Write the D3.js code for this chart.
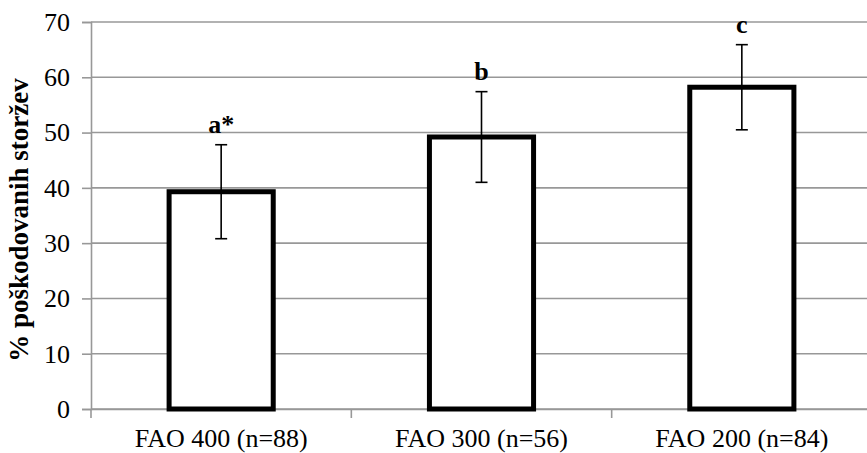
<!DOCTYPE html>
<html>
<head>
<meta charset="utf-8">
<script src="https://cdn.jsdelivr.net/npm/d3@7"></script>
<style>
  body { margin: 0; background: #fff; }
  svg { display: block; }
  text { font-family: "Liberation Serif", "Times New Roman", serif; fill: #000; }
</style>
</head>
<body>
<svg id="chart" width="867" height="453"></svg>
<script>
// data
const categories = ["FAO 400 (n=88)", "FAO 300 (n=56)", "FAO 200 (n=84)"];
const means = [39.3, 49.2, 58.2];
const errors = [8.5, 8.2, 7.7];
const letters = ["a*", "b", "c"];
const yTicks = [0, 10, 20, 30, 40, 50, 60, 70];

const width = 867, height = 453;
const margin = { top: 22, right: -5, bottom: 44, left: 91 };
const gridColor = "#989898";

const svg = d3.select("#chart");

// Scales
const x = d3.scaleBand()
  .domain(categories)
  .range([margin.left, width - margin.right]);

const y = d3.scaleLinear()
  .domain([0, 70])
  .range([height - margin.bottom, margin.top]);

const barW = x.bandwidth() * 0.4;

// Gridlines
svg.append("g")
  .selectAll("line")
  .data(yTicks)
  .join("line")
  .attr("x1", margin.left)
  .attr("x2", width - margin.right)
  .attr("y1", d => y(d))
  .attr("y2", d => y(d))
  .attr("stroke", gridColor)
  .attr("stroke-width", 1.6);

// Axes
const yAxis = svg.append("g")
  .attr("transform", `translate(${margin.left},0)`)
  .call(d3.axisLeft(y).tickValues(yTicks).tickSize(9).tickPadding(12).tickFormat(d3.format("d")));

const xAxis = svg.append("g")
  .attr("transform", `translate(0,${height - margin.bottom})`)
  .call(d3.axisBottom(x).tickSize(0).tickPadding(20));

// boundary ticks between categories
const bounds = categories.map(c => x(c)).concat([x(categories[categories.length - 1]) + x.bandwidth()]);
xAxis.selectAll(".bound")
  .data(bounds)
  .join("line")
  .attr("class", "bound")
  .attr("x1", d => d)
  .attr("x2", d => d)
  .attr("y1", 0)
  .attr("y2", 9)
  .attr("stroke", gridColor)
  .attr("stroke-width", 1.6);

[yAxis, xAxis].forEach(g => {
  g.select(".domain").attr("stroke", gridColor).attr("stroke-width", 1.6);
  g.selectAll(".tick line").attr("stroke", gridColor).attr("stroke-width", 1.6);
  g.selectAll("text")
    .attr("font-family", "Liberation Serif, Times New Roman, serif")
    .attr("font-size", 26)
    .attr("fill", "#000");
});

// Bars
svg.append("g")
  .selectAll("rect")
  .data(categories)
  .join("rect")
  .attr("x", d => x(d) + (x.bandwidth() - barW) / 2)
  .attr("width", barW)
  .attr("y", (d, i) => y(means[i]))
  .attr("height", (d, i) => y(0) - y(means[i]))
  .attr("fill", "#fff")
  .attr("stroke", "#000")
  .attr("stroke-width", 5);

// Error bars
const err = svg.append("g").attr("stroke", "#000").attr("stroke-width", 1.6);
categories.forEach((c, i) => {
  const cx = x(c) + x.bandwidth() / 2;
  const top = y(means[i] + errors[i]);
  const bot = y(means[i] - errors[i]);
  err.append("line").attr("x1", cx).attr("x2", cx).attr("y1", top).attr("y2", bot);
  err.append("line").attr("x1", cx - 6).attr("x2", cx + 6).attr("y1", top).attr("y2", top);
  err.append("line").attr("x1", cx - 6).attr("x2", cx + 6).attr("y1", bot).attr("y2", bot);
});

// Significance letters
svg.append("g")
  .selectAll("text")
  .data(categories)
  .join("text")
  .attr("x", d => x(d) + x.bandwidth() / 2)
  .attr("y", (d, i) => y(means[i] + errors[i]) - 12)
  .attr("text-anchor", "middle")
  .attr("font-size", 26)
  .attr("font-weight", "bold")
  .text((d, i) => letters[i]);

// Y-axis label
svg.append("text")
  .attr("transform", "rotate(-90)")
  .attr("x", -220)
  .attr("y", 28)
  .attr("text-anchor", "middle")
  .attr("font-size", 27)
  .attr("font-weight", "bold")
  .text("% poškodovanih storžev");
</script>
</body>
</html>
